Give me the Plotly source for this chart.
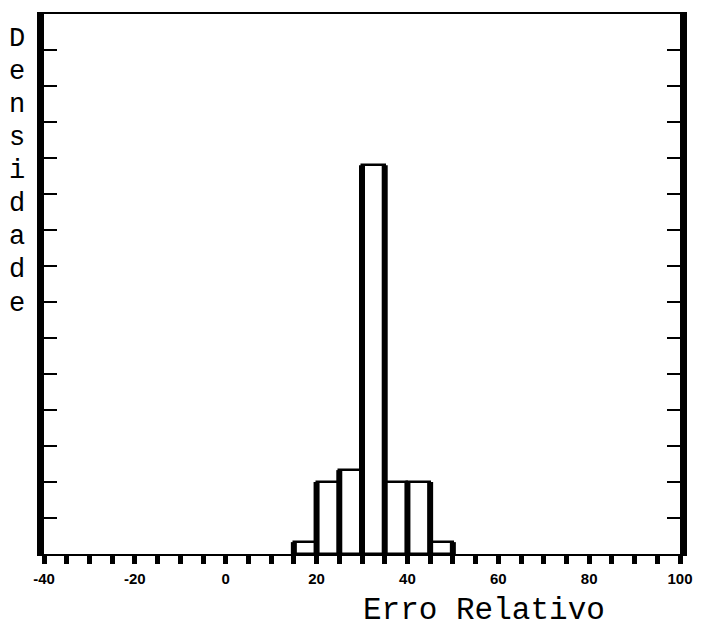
import plotly.graph_objects as go

# Data
bin_left = [15, 20, 25, 30, 35, 40, 45]
bin_width = 5
density = [0.33, 2.0, 2.33, 10.8, 2.0, 2.0, 0.33]
x_tick_vals = [-40, -20, 0, 20, 40, 60, 80, 100]
x_tick_text = ["-40", "-20", "0", "20", "40", "60", "80", "100"]
y_label_text = "Densidade"
x_label_text = "Erro Relativo"

centers = [b + bin_width / 2 for b in bin_left]

# vertical edges (drawn thicker, as in the scan)
edges = bin_left + [bin_left[-1] + bin_width]
edge_h = []
for i, e in enumerate(edges):
    left = density[i - 1] if i - 1 >= 0 else 0
    right = density[i] if i < len(density) else 0
    edge_h.append(max(left, right))
ex, ey = [], []
for e, h in zip(edges, edge_h):
    ex += [e, e, None]
    ey += [0, h, None]

fig = go.Figure()
fig.add_trace(go.Bar(
    x=centers, y=density, width=bin_width,
    marker=dict(color="white", line=dict(color="black", width=2.5)),
    showlegend=False, hoverinfo="skip",
))
fig.add_trace(go.Scatter(
    x=ex, y=ey, mode="lines",
    line=dict(color="black", width=6),
    showlegend=False, hoverinfo="skip", cliponaxis=False,
))

mono = "Liberation Mono, Courier New, monospace"

# stacked y label letters
plot_top, plot_bot = 12, 554
letter_y0, letter_step = 37, 33.2
for i, ch in enumerate(y_label_text):
    py = letter_y0 + i * letter_step
    fig.add_annotation(
        text=ch, xref="paper", yref="paper",
        x=-0.0425, y=(plot_bot - py) / (plot_bot - plot_top),
        xanchor="center", yanchor="middle", showarrow=False,
        font=dict(family=mono, size=27, color="black"),
    )

fig.add_annotation(
    text=x_label_text, xref="paper", yref="paper",
    x=(484 - 44) / (680 - 44), y=(plot_bot - 611) / (plot_bot - plot_top),
    xanchor="center", yanchor="middle", showarrow=False,
    font=dict(family=mono, size=31, color="black"),
)

fig.update_layout(
    width=710, height=632,
    margin=dict(l=44, r=30, t=12, b=78),
    paper_bgcolor="white", plot_bgcolor="white",
    bargap=0,
    xaxis=dict(
        range=[-40, 100], tickmode="array", tickvals=x_tick_vals,
        ticktext=x_tick_text,
        ticks="outside", ticklen=8, tickwidth=5, tickcolor="black",
        minor=dict(dtick=5, tick0=-40, ticks="outside", ticklen=8,
                   tickwidth=5, tickcolor="black"),
        showline=True, linecolor="black", linewidth=2, mirror=True,
        showgrid=False, zeroline=False,
        tickfont=dict(family="Liberation Sans, Arial, sans-serif", size=15,
                      color="black", weight="bold"),
        ticklabelstandoff=2,
    ),
    yaxis=dict(
        range=[0, 15], tickmode="linear", tick0=0, dtick=1,
        ticks="inside", ticklen=13, tickwidth=2, tickcolor="black",
        showticklabels=False,
        showline=True, linecolor="black", linewidth=7, mirror="ticks",
        showgrid=False, zeroline=False,
    ),
)

fig.write_html("out.html")
